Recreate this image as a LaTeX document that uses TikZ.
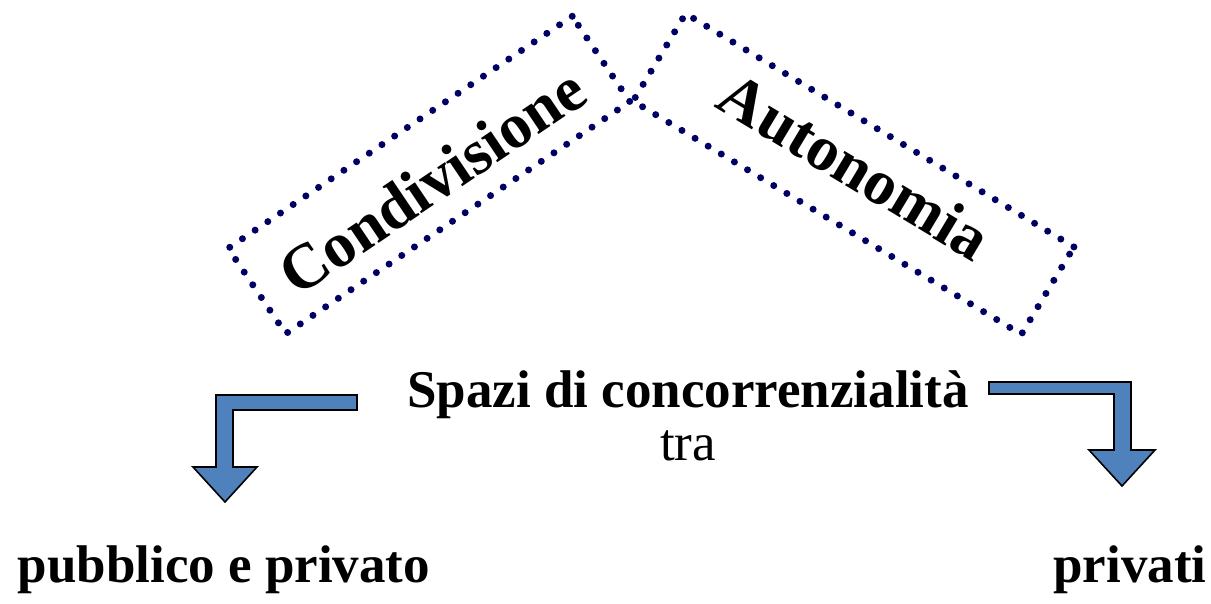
\documentclass[tikz,border=0pt]{standalone}
\usepackage{fontspec}
\setmainfont{Liberation Serif}
\definecolor{dotnavy}{RGB}{0,0,100}
\definecolor{arrowblue}{RGB}{79,129,189}
\begin{document}
\begin{tikzpicture}[x=1pt,y=-1pt,
  dotbox/.style={draw=dotnavy, line width=7pt, line cap=round, dash pattern=on 0pt off 15.3pt, inner sep=0pt},
  bigword/.style={font=\fontsize{63.5}{70}\selectfont\bfseries},
  label/.style={font=\fontsize{53}{60}\selectfont\bfseries, anchor=base},
  blockarrow/.style={fill=arrowblue, draw=black, line width=1.6pt, line join=miter}]
\useasboundingbox (0,0) rectangle (1211,604);
% rotated dotted boxes with their words
\node[dotbox, rotate=34, minimum width=415pt, minimum height=103pt] (cond) at (429,175) {};
\node[bigword, rotate=34] (condt) at (432,181) {Condivisione};
\node[dotbox, rotate=-31, minimum width=453pt, minimum height=102pt] (auto) at (853.5,174) {};
\node[bigword, rotate=-31] (autot) at (855,166) {Autonomia};
% central text
\node[label] (spazi) at (688,407) {Spazi di concorrenzialità};
\node[label, font=\fontsize{53}{60}\selectfont] (tra) at (688,460) {tra};
% bottom labels
\node[label] (pub) at (224,582) {pubblico e privato};
\node[label] (priv) at (1130,582) {privati};
% block arrows
\coordinate (la) at (357,395);
\coordinate (ra) at (989,382);
\draw[blockarrow] (la) -- (216,395) -- (216,467) -- (193,467) -- (225,502) -- (257,467) -- (233,467) -- (233,410) -- (357,410) -- cycle;
\draw[blockarrow] (ra) -- (1131,382) -- (1131,450) -- (1155,450) -- (1122,486) -- (1089,450) -- (1114,450) -- (1114,394) -- (989,394) -- cycle;
\end{tikzpicture}
\end{document}
